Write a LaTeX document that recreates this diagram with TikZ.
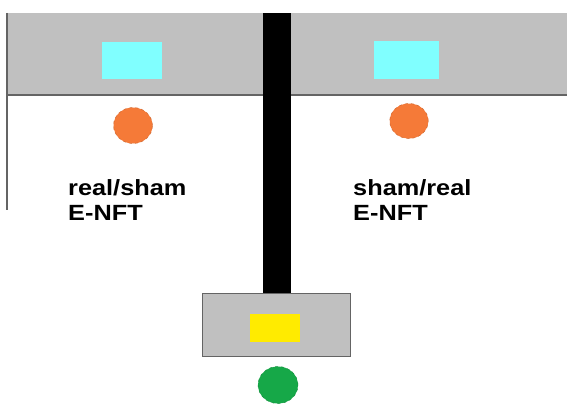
\documentclass[tikz,border=0pt]{standalone}
\usepackage{fontspec}
\setmainfont{Liberation Sans}
\begin{document}
\begin{tikzpicture}[x=1pt,y=-1pt,
  edge/.style={draw=linegray,line width=1.2pt},
  lbl/.style={font=\fontsize{22}{25}\selectfont\bfseries, align=left, anchor=north west, inner sep=0pt, xscale=1.15}
]
\definecolor{bandgray}{RGB}{192,192,192}
\definecolor{linegray}{RGB}{100,100,100}
\definecolor{cyanbox}{RGB}{128,255,255}
\definecolor{yellowbox}{RGB}{255,235,0}
\definecolor{orangedot}{RGB}{245,122,56}
\definecolor{greendot}{RGB}{22,168,72}
\useasboundingbox (0,0) rectangle (567,404);
\fill[white] (0,0) rectangle (567,404);
% top band
\fill[bandgray] (8,13) rectangle (567,95);
\draw[edge] (8,95) -- (567,95);
\draw[linegray,line width=1.2pt] (7,13) -- (7,210);
% sensors
\fill[cyanbox] (102,42) rectangle (162,79);
\fill[cyanbox] (374,41) rectangle (439,79);
% black bar
\fill[black] (263,13) rectangle (291,293);
% bottom box
\filldraw[fill=bandgray,draw=linegray,line width=1pt] (202,293) rectangle (350,356);
\fill[yellowbox] (250,314) rectangle (300,342);
% electrodes
\node[shape=circle, fill=orangedot, draw=orangedot!85!black, dashed, line width=0.5pt, minimum size=36pt, inner sep=0pt, xscale=1.08] (eL) at (133,125.5) {};
\node[shape=circle, fill=orangedot, draw=orangedot!85!black, dashed, line width=0.5pt, minimum size=35pt, inner sep=0pt, xscale=1.1] (eR) at (409,121) {};
\node[shape=circle, fill=greendot, draw=greendot!85!black, dashed, line width=0.5pt, minimum size=37pt, inner sep=0pt, xscale=1.08] (eG) at (278,385) {};
% labels
\node[lbl] (tL) at (68,179) {real/sham\\E-NFT};
\node[lbl] (tR) at (353,179) {sham/real\\E-NFT};
\end{tikzpicture}
\end{document}
